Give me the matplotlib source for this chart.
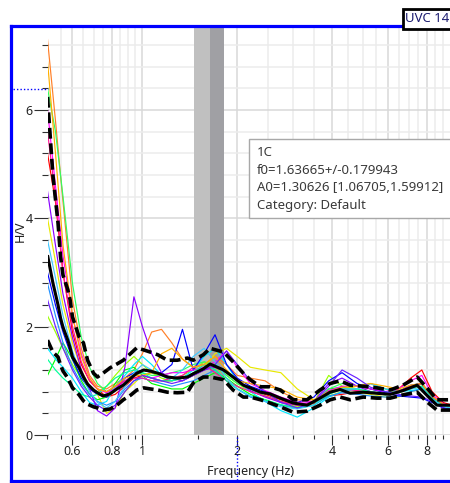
import matplotlib
matplotlib.use("Agg")
import matplotlib.pyplot as plt
import matplotlib.transforms as mtransforms
from matplotlib.patches import Rectangle
from matplotlib.lines import Line2D
import numpy as np

plt.rcParams['font.family'] = ['Noto Sans', 'DejaVu Sans']

# ---- averaged H/V curve and its +/- one standard deviation curves ----
freq = [0.50, 0.52, 0.54, 0.55, 0.56, 0.58, 0.59, 0.60, 0.63, 0.65,
        0.67, 0.70, 0.72, 0.75, 0.79, 0.83, 0.87, 0.92, 0.96, 1.01,
        1.06, 1.12, 1.20, 1.29, 1.39, 1.45, 1.56, 1.64, 1.81, 1.94,
        2.09, 2.20, 2.37, 2.54, 2.74, 3.01, 3.33, 3.66, 3.94, 4.24,
        4.56, 5.02, 5.55, 6.11, 6.71, 7.44, 8.00, 8.60, 9.26, 9.60]
hv_mean = [3.32, 2.81, 2.40, 2.16, 1.99, 1.75, 1.61, 1.44, 1.24, 1.07,
           0.94, 0.83, 0.78, 0.72, 0.76, 0.85, 0.92, 1.05, 1.14, 1.20,
           1.18, 1.14, 1.07, 1.05, 1.07, 1.13, 1.22, 1.31, 1.20, 1.07,
           0.92, 0.87, 0.79, 0.76, 0.68, 0.59, 0.55, 0.68, 0.79, 0.84,
           0.77, 0.79, 0.77, 0.75, 0.82, 0.92, 0.73, 0.55, 0.55, 0.55]
hv_upper = [6.24, 4.80, 3.91, 3.29, 2.95, 2.68, 2.49, 2.18, 1.81, 1.70,
            1.38, 1.14, 1.07, 1.14, 1.24, 1.31, 1.38, 1.51, 1.61, 1.57,
            1.53, 1.48, 1.38, 1.38, 1.42, 1.38, 1.48, 1.60, 1.53, 1.35,
            1.14, 1.02, 0.89, 0.89, 0.83, 0.65, 0.65, 0.83, 0.95, 1.00,
            0.92, 0.90, 0.87, 0.83, 0.92, 1.07, 0.87, 0.65, 0.65, 0.65]
hv_lower = [1.75, 1.53, 1.44, 1.29, 1.18, 1.05, 0.96, 0.87, 0.74, 0.63,
            0.57, 0.52, 0.50, 0.46, 0.48, 0.55, 0.65, 0.74, 0.83, 0.87,
            0.85, 0.83, 0.79, 0.78, 0.79, 0.96, 1.07, 1.07, 1.02, 0.83,
            0.70, 0.70, 0.65, 0.59, 0.52, 0.42, 0.44, 0.55, 0.65, 0.70,
            0.65, 0.70, 0.68, 0.68, 0.74, 0.79, 0.61, 0.46, 0.46, 0.46]

# ---- individual time windows ----
win_freq = [0.50, 0.53, 0.56, 0.60, 0.64, 0.68, 0.72, 0.77, 0.82, 0.88,
            0.94, 1.00, 1.07, 1.15, 1.24, 1.34, 1.45, 1.57, 1.70, 1.85,
            2.00, 2.20, 2.45, 2.75, 3.10, 3.50, 3.90, 4.30, 4.80, 5.30,
            5.90, 6.50, 7.10, 7.70, 8.30, 9.00, 9.60]
win_01 = [7.3, 5.8, 4.3, 2.5, 1.6, 1.1, 0.9, 0.85, 0.95, 1.05,
          1.2, 1.5, 1.9, 1.95, 1.7, 1.4, 1.25, 1.3, 1.45, 1.3,
          1.1, 1.05, 1.0, 0.8, 0.65, 0.62, 0.78, 0.85, 0.9, 0.95,
          0.85, 0.82, 0.9, 0.95, 0.72, 0.58, 0.55]
win_02 = [5.2, 4.3, 3.0, 1.9, 1.3, 1.0, 0.85, 0.7, 0.75, 0.9,
          1.05, 1.1, 1.05, 1.0, 1.0, 1.05, 1.1, 1.2, 1.3, 1.15,
          1.0, 0.85, 0.75, 0.65, 0.55, 0.58, 0.72, 0.75, 0.8, 0.78,
          0.75, 0.85, 1.05, 1.2, 0.8, 0.6, 0.55]
win_03 = [4.0, 3.2, 2.4, 1.7, 1.2, 0.9, 0.75, 0.4, 0.5, 0.8,
          0.95, 1.1, 1.15, 1.1, 1.05, 1.0, 1.1, 1.25, 1.5, 1.6,
          1.45, 1.25, 1.2, 1.15, 0.85, 0.65, 0.72, 0.8, 0.78, 0.75,
          0.7, 0.7, 0.8, 0.85, 0.66, 0.55, 0.5]
win_04 = [2.2, 1.9, 1.6, 1.3, 1.05, 0.85, 0.8, 0.9, 1.1, 1.3,
          1.45, 1.3, 1.15, 1.05, 1.0, 1.1, 1.2, 1.35, 1.25, 1.1,
          0.95, 0.8, 0.72, 0.6, 0.52, 0.6, 1.1, 0.9, 0.85, 0.8,
          0.75, 0.78, 0.85, 0.9, 0.7, 0.55, 0.5]
win_05 = [1.1, 1.4, 1.7, 1.4, 1.0, 0.75, 0.65, 0.7, 0.95, 1.2,
          1.25, 1.1, 0.95, 0.9, 0.85, 0.85, 0.95, 1.05, 1.15, 1.05,
          0.9, 0.75, 0.65, 0.55, 0.5, 0.55, 0.85, 0.88, 0.82, 0.78,
          0.74, 0.78, 0.9, 0.95, 0.7, 0.56, 0.5]
win_06 = [6.4, 5.6, 4.4, 2.8, 1.8, 1.25, 0.95, 0.8, 0.85, 1.0,
          1.1, 1.15, 1.1, 1.1, 1.15, 1.2, 1.3, 1.35, 1.3, 1.1,
          0.95, 0.85, 0.72, 0.62, 0.55, 0.6, 0.85, 0.95, 0.9, 0.85,
          0.78, 0.8, 0.92, 0.95, 0.72, 0.57, 0.52]
win_07 = [1.6, 1.4, 1.25, 1.05, 0.8, 0.6, 0.55, 0.62, 0.9, 1.1,
          1.3, 1.45, 1.3, 1.1, 1.0, 1.05, 1.2, 1.45, 1.6, 1.3,
          1.0, 0.8, 0.62, 0.45, 0.33, 0.5, 0.7, 0.8, 0.85, 0.95,
          0.85, 0.8, 0.82, 0.85, 0.66, 0.53, 0.5]
win_08 = [2.8, 2.2, 1.7, 1.25, 0.95, 0.75, 0.62, 0.55, 0.62, 0.85,
          1.0, 1.05, 1.0, 0.95, 0.9, 0.95, 1.0, 1.1, 1.2, 1.0,
          0.85, 0.7, 0.62, 0.55, 0.5, 0.55, 0.72, 0.78, 0.75, 0.72,
          0.7, 0.72, 0.8, 0.85, 0.62, 0.5, 0.48]
win_09 = [3.0, 2.4, 1.9, 1.4, 1.05, 0.85, 0.75, 0.7, 0.85, 1.05,
          1.15, 1.2, 1.15, 1.15, 1.3, 1.95, 1.2, 1.5, 1.85, 1.3,
          1.05, 0.9, 0.8, 0.68, 0.6, 0.7, 1.0, 1.15, 0.95, 0.85,
          0.78, 0.72, 0.7, 0.68, 0.6, 0.5, 0.46]
win_10 = [4.5, 3.5, 2.6, 1.8, 1.2, 0.85, 0.45, 0.35, 0.5, 1.25,
          2.55, 2.0, 1.5, 1.15, 1.05, 1.0, 1.1, 1.2, 1.25, 1.15,
          1.0, 0.82, 0.7, 0.6, 0.55, 0.62, 0.95, 1.05, 0.9, 0.8,
          0.75, 0.8, 0.92, 0.95, 0.72, 0.56, 0.5]
win_11 = [6.0, 4.6, 3.3, 2.2, 1.5, 1.05, 0.85, 0.78, 0.85, 1.0,
          1.1, 1.1, 1.05, 1.1, 1.15, 1.15, 1.2, 1.25, 1.35, 1.55,
          1.25, 0.95, 0.82, 0.7, 0.6, 0.62, 0.82, 0.9, 0.9, 0.85,
          0.8, 0.85, 1.0, 1.1, 0.75, 0.58, 0.52]
win_12 = [5.6, 4.4, 3.0, 2.0, 1.35, 1.0, 0.85, 0.8, 0.9, 1.0,
          1.05, 1.05, 1.0, 1.0, 1.05, 1.1, 1.25, 1.3, 1.15, 1.0,
          0.9, 0.8, 0.72, 0.62, 0.55, 0.6, 0.8, 0.85, 0.82, 0.8,
          0.76, 0.8, 0.9, 0.95, 0.7, 0.55, 0.5]
win_13 = [1.4, 1.2, 1.05, 0.9, 0.75, 0.7, 0.75, 0.9, 1.05, 1.15,
          1.2, 1.15, 1.05, 1.0, 1.0, 1.05, 1.15, 1.3, 1.2, 1.0,
          0.85, 0.72, 0.65, 0.56, 0.5, 0.55, 0.75, 0.85, 0.85, 0.8,
          0.76, 0.8, 0.88, 0.9, 0.68, 0.54, 0.5]
win_14 = [3.6, 2.9, 2.2, 1.55, 1.1, 0.8, 0.6, 0.5, 0.62, 0.9,
          1.15, 1.3, 1.2, 1.1, 1.05, 1.2, 1.45, 1.6, 1.35, 1.05,
          0.85, 0.72, 0.62, 0.52, 0.48, 0.55, 0.78, 0.85, 0.85, 0.95,
          0.8, 0.78, 0.85, 0.88, 0.66, 0.53, 0.5]
win_15 = [6.9, 5.2, 3.5, 2.2, 1.45, 1.05, 0.85, 0.8, 0.9, 1.05,
          1.1, 1.1, 1.15, 1.5, 1.6, 1.4, 1.25, 1.3, 1.45, 1.2,
          1.0, 0.95, 0.9, 0.85, 0.7, 0.65, 0.8, 0.88, 0.9, 0.95,
          0.9, 0.85, 0.92, 0.95, 0.72, 0.57, 0.52]
win_16 = [2.5, 2.0, 1.6, 1.2, 0.9, 0.7, 0.55, 0.45, 0.55, 0.8,
          1.0, 1.1, 1.05, 1.0, 0.95, 1.0, 1.1, 1.2, 1.3, 1.55,
          1.3, 1.0, 0.8, 0.6, 0.5, 0.6, 0.9, 1.2, 1.05, 0.88,
          0.8, 0.75, 0.72, 0.7, 0.62, 0.5, 0.46]
windows = [win_01, win_02, win_03, win_04, win_05, win_06, win_07, win_08,
           win_09, win_10, win_11, win_12, win_13, win_14, win_15, win_16]
win_colors = ['#ff7f27', '#ff0000', '#e8e800', '#9aff00', '#00ff00', '#30ff60',
              '#00e8ff', '#2090ff', '#0000ff', '#8a00ff', '#ff00ff', '#ff1493',
              '#00ff99', '#40c8ff', '#ffb000', '#6a20ff']

# ---- peak statistics ----
peak_name = "1C"
f0 = 1.63665
f0_std = 0.179943
A0 = 1.30626
A0_lo = 1.06705
A0_hi = 1.59912
category = "Default"
station = "UVC 14"

# cursor position markers
cursor_f = 1.99
cursor_hv = 6.39

x_major = [0.6, 0.8, 1, 2, 4, 6, 8]
x_major_labels = ['0.6', '0.8', '1', '2', '4', '6', '8']
y_major = [0, 2, 4, 6]

W, H = 450, 483
fig = plt.figure(figsize=(W / 100, H / 100), dpi=100)
fig.patch.set_facecolor('white')


def fx(px):
    return px / W


def fy(py):
    return 1 - py / H


ax_l, ax_r, ax_t, ax_b = 47.5, 450, 27, 435
ax = fig.add_axes([fx(ax_l), fy(ax_b), (ax_r - ax_l) / W, (ax_b - ax_t) / H])
ax.set_xscale('log')
ax.set_xlim(0.5, 9.46)
ax.set_ylim(0, 7.53)
for s in ax.spines.values():
    s.set_visible(False)

# ticks and grid
x_minor = [v for v in list(np.arange(0.5, 0.99, 0.05)) + list(np.arange(1.5, 9.6, 0.5))
           if not any(abs(v - m) < 1e-6 for m in x_major)]
ax.xaxis.set_major_locator(matplotlib.ticker.FixedLocator(x_major))
ax.xaxis.set_major_formatter(matplotlib.ticker.FixedFormatter(x_major_labels))
ax.xaxis.set_minor_locator(matplotlib.ticker.FixedLocator(x_minor))
ax.xaxis.set_minor_formatter(matplotlib.ticker.NullFormatter())
ax.yaxis.set_major_locator(matplotlib.ticker.FixedLocator(y_major))
ax.yaxis.set_minor_locator(matplotlib.ticker.FixedLocator(np.arange(0, 7.5, 0.4)))
ax.set_axisbelow(True)
ax.grid(which='minor', color='#ececec', lw=1.1)
ax.grid(which='major', color='#d8d8d8', lw=1.1)
tick_col = '#303030'
ax.tick_params(axis='x', which='major', length=7, width=0.8, pad=0.5,
               color=tick_col, labelcolor='#222222', labelsize=9)
ax.tick_params(axis='x', which='minor', length=3.2, width=0.8, color=tick_col)
ax.tick_params(axis='y', which='major', length=10, width=0.8, pad=0.8,
               color=tick_col, labelcolor='#222222', labelsize=9)
ax.tick_params(axis='y', which='minor', length=4.5, width=0.8, color=tick_col)

# peak frequency band
ax.axvspan(f0 - f0_std, f0, color='#c0c0c0', lw=0, zorder=1)
ax.axvspan(f0, f0 + f0_std, color='#a0a0a4', lw=0, zorder=1)

# window curves
for vals, c in zip(windows, win_colors):
    ax.plot(win_freq, vals, color=c, lw=0.85, zorder=2)

# average and standard deviation curves
ax.plot(freq, hv_mean, color='black', lw=2.2, zorder=5, solid_capstyle='butt')
for curve in (hv_upper, hv_lower):
    ln, = ax.plot(freq, curve, color='black', lw=2.6, zorder=5)
    ln.set_dashes((3.0, 1.3))

# cursor markers on the axes
tr_xa = mtransforms.blended_transform_factory(ax.transAxes, ax.transData)
ax.plot([(13 - ax_l) / (ax_r - ax_l), 0], [cursor_hv, cursor_hv], transform=tr_xa,
        color='#0000ff', lw=1, ls=(0, (1, 1.5)), clip_on=False, zorder=6)
tr_ax = mtransforms.blended_transform_factory(ax.transData, ax.transAxes)
ax.plot([cursor_f, cursor_f], [-(2 / (ax_b - ax_t)), -((H - ax_b) / (ax_b - ax_t))],
        transform=tr_ax, color='#0000ff', lw=1, ls=(0, (1, 1.5)), clip_on=False, zorder=6)

# axis titles
ax.text((20 - ax_l) / (ax_r - ax_l), 0.5, 'H/V', transform=ax.transAxes, rotation=90,
        ha='center', va='center', fontsize=9, color='#222222')
ax.text((251 - ax_l) / (ax_r - ax_l), -(472 - ax_b) / (ax_b - ax_t), 'Frequency (Hz)',
        transform=ax.transAxes, ha='center', va='center', fontsize=9, color='#222222')

# peak information box
fig.patches.append(Rectangle((fx(249), fy(218)), fx(460) - fx(249), fy(139) - fy(218),
                             transform=fig.transFigure, facecolor='white',
                             edgecolor='#a8a8a8', lw=1.0, zorder=10))
info_lines = [peak_name,
              f"f0={f0:g}+/-{f0_std:g}",
              f"A0={A0:g} [{A0_lo:g},{A0_hi:g}]",
              f"Category: {category}"]
for i, line in enumerate(info_lines):
    fig.text(fx(257), fy(152 + 18 * i), line, fontsize=9.5, color='#3a3a3a',
             ha='left', va='center', zorder=11)

# blue frame of the graph
frame_kw = dict(color='#0000ff', lw=2.3, transform=fig.transFigure, zorder=12,
                solid_capstyle='projecting')
fig.lines.append(Line2D([fx(11), fx(11)], [fy(26), fy(481)], **frame_kw))
fig.lines.append(Line2D([fx(11), fx(460)], [fy(26), fy(26)], **frame_kw))
fig.lines.append(Line2D([fx(11), fx(460)], [fy(481), fy(481)], **frame_kw))

# station label at the top right
fig.patches.append(Rectangle((fx(402.5), fy(28.5)), fx(470) - fx(402.5), fy(8.5) - fy(28.5),
                             transform=fig.transFigure, facecolor='white',
                             edgecolor='black', lw=2.0, zorder=13))
fig.text(fx(405), fy(19), station, fontsize=9.5, color='#1c1c70', ha='left',
         va='center', zorder=14)

fig.savefig('out.png', dpi=100)
